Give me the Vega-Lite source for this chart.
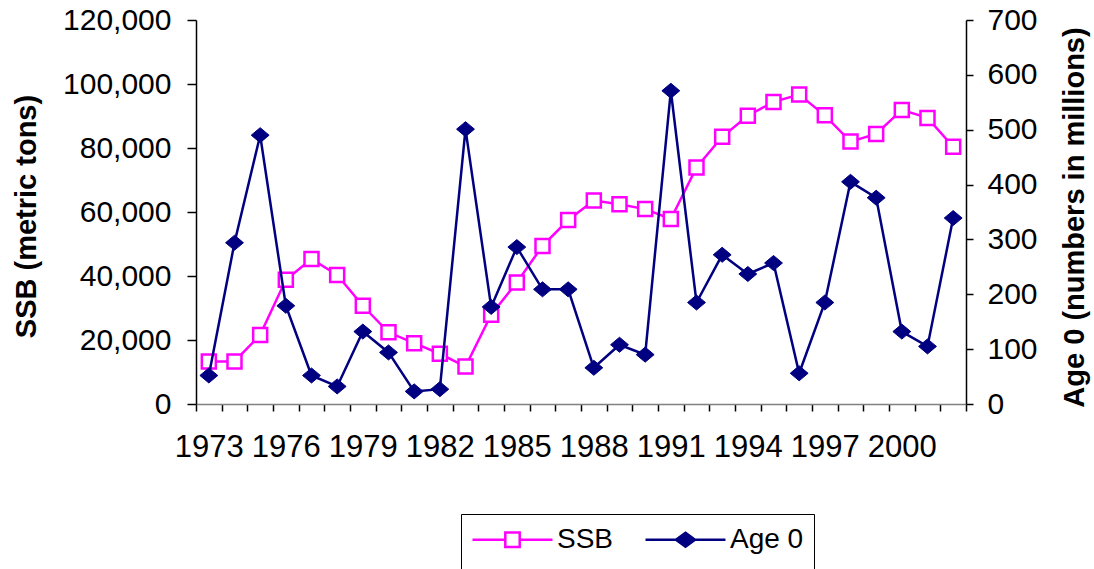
{
  "$schema": "https://vega.github.io/schema/vega-lite/v6.json",
  "width": 770,
  "height": 384,
  "autosize": {"type": "none"},
  "padding": {"left": 196, "top": 20, "right": 128, "bottom": 165},
  "config": {
    "view": {"stroke": null},
    "font": "Liberation Sans",
    "axis": {
      "grid": false,
      "labelFont": "Liberation Sans",
      "titleFont": "Liberation Sans",
      "labelColor": "black",
      "titleColor": "black",
      "domainColor": "black",
      "tickColor": "black",
      "labelFontSize": 30,
      "titleFontSize": 29,
      "titleFontWeight": "bold",
      "domainWidth": 1.5,
      "tickWidth": 1.5
    }
  },
  "data": {
    "values": [
      {"year": 1973, "series": "SSB", "value": 13300},
      {"year": 1974, "series": "SSB", "value": 13300},
      {"year": 1975, "series": "SSB", "value": 21600},
      {"year": 1976, "series": "SSB", "value": 38800},
      {"year": 1977, "series": "SSB", "value": 45300},
      {"year": 1978, "series": "SSB", "value": 40300},
      {"year": 1979, "series": "SSB", "value": 30700},
      {"year": 1980, "series": "SSB", "value": 22400},
      {"year": 1981, "series": "SSB", "value": 19000},
      {"year": 1982, "series": "SSB", "value": 15700},
      {"year": 1983, "series": "SSB", "value": 11700},
      {"year": 1984, "series": "SSB", "value": 27900},
      {"year": 1985, "series": "SSB", "value": 38000},
      {"year": 1986, "series": "SSB", "value": 49400},
      {"year": 1987, "series": "SSB", "value": 57500},
      {"year": 1988, "series": "SSB", "value": 63600},
      {"year": 1989, "series": "SSB", "value": 62400},
      {"year": 1990, "series": "SSB", "value": 60900},
      {"year": 1991, "series": "SSB", "value": 57800},
      {"year": 1992, "series": "SSB", "value": 73900},
      {"year": 1993, "series": "SSB", "value": 83500},
      {"year": 1994, "series": "SSB", "value": 90100},
      {"year": 1995, "series": "SSB", "value": 94400},
      {"year": 1996, "series": "SSB", "value": 96700},
      {"year": 1997, "series": "SSB", "value": 90200},
      {"year": 1998, "series": "SSB", "value": 82000},
      {"year": 1999, "series": "SSB", "value": 84400},
      {"year": 2000, "series": "SSB", "value": 91900},
      {"year": 2001, "series": "SSB", "value": 89400},
      {"year": 2002, "series": "SSB", "value": 80400},
      {"year": 1973, "series": "Age 0", "value": 52},
      {"year": 1974, "series": "Age 0", "value": 294},
      {"year": 1975, "series": "Age 0", "value": 490},
      {"year": 1976, "series": "Age 0", "value": 179},
      {"year": 1977, "series": "Age 0", "value": 52},
      {"year": 1978, "series": "Age 0", "value": 32},
      {"year": 1979, "series": "Age 0", "value": 132},
      {"year": 1980, "series": "Age 0", "value": 94},
      {"year": 1981, "series": "Age 0", "value": 23},
      {"year": 1982, "series": "Age 0", "value": 27},
      {"year": 1983, "series": "Age 0", "value": 501},
      {"year": 1984, "series": "Age 0", "value": 177},
      {"year": 1985, "series": "Age 0", "value": 286},
      {"year": 1986, "series": "Age 0", "value": 209},
      {"year": 1987, "series": "Age 0", "value": 209},
      {"year": 1988, "series": "Age 0", "value": 66},
      {"year": 1989, "series": "Age 0", "value": 108},
      {"year": 1990, "series": "Age 0", "value": 90},
      {"year": 1991, "series": "Age 0", "value": 571},
      {"year": 1992, "series": "Age 0", "value": 185},
      {"year": 1993, "series": "Age 0", "value": 272},
      {"year": 1994, "series": "Age 0", "value": 237},
      {"year": 1995, "series": "Age 0", "value": 257},
      {"year": 1996, "series": "Age 0", "value": 56},
      {"year": 1997, "series": "Age 0", "value": 185},
      {"year": 1998, "series": "Age 0", "value": 405},
      {"year": 1999, "series": "Age 0", "value": 376},
      {"year": 2000, "series": "Age 0", "value": 132},
      {"year": 2001, "series": "Age 0", "value": 105},
      {"year": 2002, "series": "Age 0", "value": 339}
    ]
  },
  "encoding": {
    "x": {
      "field": "year",
      "type": "ordinal",
      "bandPosition": 0.5,
      "scale": {"type": "band", "paddingInner": 0, "paddingOuter": 0},
      "axis": {
        "title": null,
        "tickBand": "extent",
        "labelAngle": 0,
        "labelOverlap": false,
        "labelExpr": "(datum.value - 1973) % 3 == 0 ? datum.label : ''",
        "labelFontSize": 31,
        "tickSize": 7,
        "labelPadding": 21,
        "domainColor": "#808080"
      }
    }
  },
  "layer": [
    {
      "transform": [{"filter": "datum.series == 'SSB'"}],
      "encoding": {
        "y": {
          "field": "value",
          "type": "quantitative",
          "scale": {"domain": [0, 120000], "nice": false, "zero": true},
          "axis": {
            "title": "SSB (metric tons)",
            "values": [0, 20000, 40000, 60000, 80000, 100000, 120000],
            "format": ",d",
            "tickSize": 9,
            "labelPadding": 16,
            "titleAngle": -90,
            "titleX": -161,
            "titleY": 196,
            "titleBaseline": "alphabetic",
            "titleAlign": "center"
          }
        }
      },
      "layer": [
        {"mark": {"type": "line", "color": "#FF00FF", "strokeWidth": 2.5}},
        {"mark": {"type": "point", "shape": "square", "size": 196, "filled": true, "fill": "white", "stroke": "#FF00FF", "strokeWidth": 2.5, "opacity": 1}},
        {
          "transform": [{"filter": "false"}],
          "mark": {"type": "point", "filled": true, "opacity": 1},
          "encoding": {
            "shape": {
              "field": "series", "type": "nominal",
              "scale": {"domain": ["SSB", "Age 0"], "range": ["M-2.857,0H-0.514M0.514,0H2.857M-0.514,-0.514H0.514V0.514H-0.514Z", "M-2.857,0H2.857M0,-0.5L0.68,0L0,0.5L-0.68,0Z"]},
              "legend": {"orient": "none", "legendX": 265, "legendY": 494, "direction": "horizontal", "title": " ", "titleOrient": "bottom", "titleFontSize": 20, "titlePadding": 4, "padding": 10, "strokeColor": "black", "fillColor": "white", "labelFontSize": 28, "labelFont": "Liberation Sans", "labelColor": "black", "symbolSize": 784, "symbolStrokeWidth": 2.5, "symbolOffset": 26, "labelOffset": 29, "columnPadding": 26}
            },
            "stroke": {
              "field": "series", "type": "nominal",
              "scale": {"domain": ["SSB", "Age 0"], "range": ["#FF00FF", "#000080"]},
              "legend": {"orient": "none", "legendX": 265, "legendY": 494, "direction": "horizontal", "title": " ", "titleOrient": "bottom", "titleFontSize": 20, "titlePadding": 4, "padding": 10, "strokeColor": "black", "fillColor": "white", "labelFontSize": 28, "labelFont": "Liberation Sans", "labelColor": "black", "symbolSize": 784, "symbolStrokeWidth": 2.5, "symbolOffset": 26, "labelOffset": 29, "columnPadding": 26}
            },
            "fill": {
              "field": "series", "type": "nominal",
              "scale": {"domain": ["SSB", "Age 0"], "range": ["#FFFFFF", "#000080"]},
              "legend": {"orient": "none", "legendX": 265, "legendY": 494, "direction": "horizontal", "title": " ", "titleOrient": "bottom", "titleFontSize": 20, "titlePadding": 4, "padding": 10, "strokeColor": "black", "fillColor": "white", "labelFontSize": 28, "labelFont": "Liberation Sans", "labelColor": "black", "symbolSize": 784, "symbolStrokeWidth": 2.5, "symbolOffset": 26, "labelOffset": 29, "columnPadding": 26}
            }
          }
        }
      ]
    },
    {
      "transform": [{"filter": "datum.series == 'Age 0'"}],
      "encoding": {
        "y": {
          "field": "value",
          "type": "quantitative",
          "scale": {"domain": [0, 700], "nice": false, "zero": true},
          "axis": {
            "orient": "right",
            "title": "Age 0 (numbers in millions)",
            "values": [0, 100, 200, 300, 400, 500, 600, 700],
            "tickSize": 7,
            "labelPadding": 14,
            "titleAngle": -90,
            "titleX": 117,
            "titleY": 197,
            "titleBaseline": "alphabetic",
            "titleAlign": "center"
          }
        }
      },
      "layer": [
        {"mark": {"type": "line", "color": "#000080", "strokeWidth": 2.5}},
        {"mark": {"type": "point", "shape": "M-1,0L0,-0.84L1,0L0,0.84Z", "size": 320, "filled": true, "fill": "#000080", "stroke": "#000080", "strokeWidth": 1, "opacity": 1}}
      ]
    }
  ],
  "resolve": {"scale": {"y": "independent"}}
}
